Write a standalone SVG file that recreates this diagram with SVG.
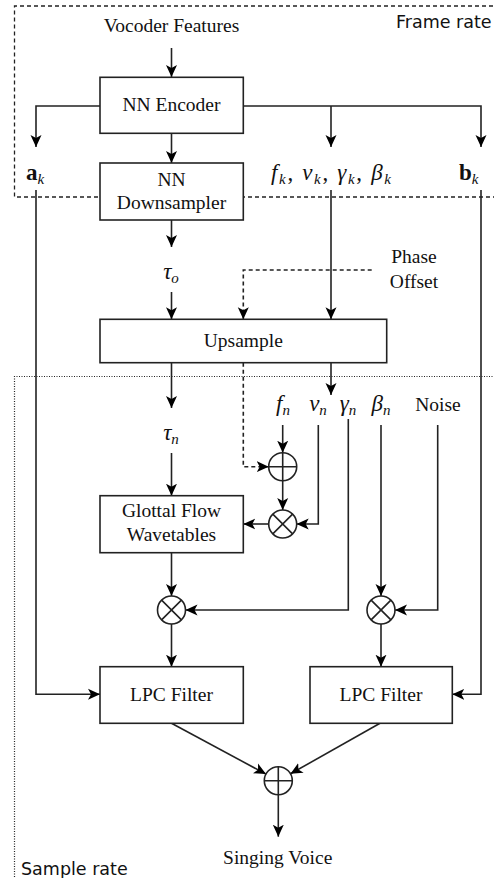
<svg xmlns="http://www.w3.org/2000/svg" width="494" height="878" viewBox="0 0 494 878">
<defs>
<marker id="arr" viewBox="0 0 12 12" refX="12" refY="6" markerWidth="12" markerHeight="12" orient="auto" markerUnits="userSpaceOnUse">
<path d="M0,0.5 L12,6 L0,11.5 L3,6 z" fill="#000"/>
</marker>
<style>
.box{fill:#fff;stroke:#222;stroke-width:1.6}
.op{fill:#fff;stroke:#222;stroke-width:1.6}
.ln{fill:none;stroke:#222;stroke-width:1.6}
.c{fill:none;stroke:#222;stroke-width:1.6}
.a{marker-end:url(#arr)}
.dash{stroke-dasharray:4 3}
.t{font-family:"Liberation Serif","Times New Roman",serif;font-size:19.5px;fill:#111;text-anchor:middle}
.m{font-family:"Liberation Serif","Times New Roman",serif;font-size:23px;font-style:italic;fill:#111;text-anchor:middle}
.s{font-size:15px}
.sans{font-family:"DejaVu Sans",Verdana,sans-serif;font-size:17.5px;fill:#111}
</style>
</defs>
<g id="regions">
<path d="M500,6 H14.5 V197 H500" fill="none" stroke="#222" stroke-width="1.3" stroke-dasharray="4 3"/>
<path d="M500,376.5 H14.5 V880" fill="none" stroke="#222" stroke-width="1.2" stroke-dasharray="1 1.5"/>
<text class="sans" x="396" y="28">Frame rate</text>
<text class="sans" x="21" y="875">Sample rate</text>
</g>
<g id="connectors">
<path class="c a" d="M171.5,48 V77"/>
<path class="c a" d="M100,106 H36 V147"/>
<path class="c a" d="M243,106 H481 V147"/>
<path class="c a" d="M331,106 V147"/>
<path class="c a" d="M171.5,133 V163"/>
<path class="c a" d="M36,190 V694.3 H100"/>
<path class="c a" d="M331,190 V319.3"/>
<path class="c a" d="M481,190 V694.3 H452.3"/>
<path class="c a" d="M171.5,220 V247"/>
<path class="c a" d="M171.5,292 V319.3"/>
<path class="c a dash" d="M371.7,270 H243.3 V319.3"/>
<path class="c a" d="M171.5,362.7 V408"/>
<path class="c a dash" d="M243.3,362.7 V466.7 H268.7"/>
<path class="c a" d="M331,362.7 V395"/>
<path class="c a" d="M282.7,425 V452.7"/>
<path class="c a" d="M282.7,480.7 V510"/>
<path class="c a" d="M318.3,425 V524 H296.7"/>
<path class="c a" d="M268.7,524 H243.3"/>
<path class="c a" d="M171.5,453 V495.7"/>
<path class="c a" d="M171.5,552.7 V596"/>
<path class="c a" d="M348.3,419 V610 H185.5"/>
<path class="c a" d="M381,425 V596"/>
<path class="c a" d="M437.7,425 V610 H395"/>
<path class="c a" d="M171.5,624 V666.7"/>
<path class="c a" d="M381,624 V666.7"/>
<path class="c a" d="M171.5,723.3 L266,774.1"/>
<path class="c a" d="M380,723.3 L290.5,773.8"/>
<path class="c a" d="M278.3,794.7 V836.7"/>
</g>
<g id="vocoder-features"><text class="t" x="171.5" y="32">Vocoder Features</text></g>
<g id="nn-encoder">
<rect class="box" x="100" y="77.3" width="143.3" height="56"/>
<text class="t" x="171.5" y="111">NN Encoder</text>
</g>
<g id="nn-downsampler">
<rect class="box" x="100" y="163" width="143.3" height="57"/>
<text class="t" x="171.5" y="186">NN</text>
<text class="t" x="171.5" y="209">Downsampler</text>
</g>
<g id="label-ak"><text x="26" y="180" font-family="Liberation Serif,serif" font-size="23" fill="#111"><tspan font-weight="bold">a</tspan><tspan font-style="italic" font-size="15" dy="4">k</tspan></text></g>
<g id="label-params-k"><text class="m" x="331" y="180" textLength="120" lengthAdjust="spacing">f<tspan class="s" dy="4">k</tspan><tspan dy="-4" font-style="normal">, </tspan>v<tspan class="s" dy="4">k</tspan><tspan dy="-4" font-style="normal">, </tspan>γ<tspan class="s" dy="4">k</tspan><tspan dy="-4" font-style="normal">, </tspan>β<tspan class="s" dy="4">k</tspan></text></g>
<g id="label-bk"><text x="459" y="180" font-family="Liberation Serif,serif" font-size="23" fill="#111"><tspan font-weight="bold">b</tspan><tspan font-style="italic" font-size="15" dy="4">k</tspan></text></g>
<g id="label-tau-o"><text class="m" x="171" y="279">τ<tspan class="s" dy="4">o</tspan></text></g>
<g id="phase-offset">
<text class="t" x="414" y="263">Phase</text>
<text class="t" x="414" y="288">Offset</text>
</g>
<g id="upsample">
<rect class="box" x="100" y="319.3" width="286.7" height="43.4"/>
<text class="t" x="243.3" y="347">Upsample</text>
</g>
<g id="label-tau-n"><text class="m" x="171" y="440">τ<tspan class="s" dy="4">n</tspan></text></g>
<g id="label-fn"><text class="m" x="283" y="411">f<tspan class="s" dy="4">n</tspan></text></g>
<g id="label-vn"><text class="m" x="318" y="411">v<tspan class="s" dy="4">n</tspan></text></g>
<g id="label-gn"><text class="m" x="348" y="411">γ<tspan class="s" dy="4">n</tspan></text></g>
<g id="label-bn"><text class="m" x="381" y="411">β<tspan class="s" dy="4">n</tspan></text></g>
<g id="noise"><text class="t" x="438" y="411">Noise</text></g>
<g id="adder-phase">
<circle class="op" cx="282.7" cy="466.7" r="14"/>
<path class="ln" d="M268.7,466.7 H296.7 M282.7,452.7 V480.7"/>
</g>
<g id="mult-voicing">
<circle class="op" cx="282.7" cy="524" r="14"/>
<path class="ln" d="M272.8,514.1 L292.6,533.9 M292.6,514.1 L272.8,533.9"/>
</g>
<g id="glottal-flow">
<rect class="box" x="100" y="495.7" width="143.3" height="57"/>
<text class="t" x="171.5" y="517">Glottal Flow</text>
<text class="t" x="171.5" y="541">Wavetables</text>
</g>
<g id="mult-gamma">
<circle class="op" cx="171.5" cy="610" r="14"/>
<path class="ln" d="M161.6,600.1 L181.4,619.9 M181.4,600.1 L161.6,619.9"/>
</g>
<g id="mult-beta">
<circle class="op" cx="381" cy="610" r="14"/>
<path class="ln" d="M371.1,600.1 L390.9,619.9 M390.9,600.1 L371.1,619.9"/>
</g>
<g id="lpc-filter-1">
<rect class="box" x="100" y="666.7" width="143.3" height="56.6"/>
<text class="t" x="171.5" y="701">LPC Filter</text>
</g>
<g id="lpc-filter-2">
<rect class="box" x="310" y="666.7" width="142.3" height="56.6"/>
<text class="t" x="381" y="701">LPC Filter</text>
</g>
<g id="adder-out">
<circle class="op" cx="278.3" cy="780.7" r="14"/>
<path class="ln" d="M264.3,780.7 H292.3 M278.3,766.7 V794.7"/>
</g>
<g id="singing-voice"><text class="t" x="277.7" y="864">Singing Voice</text></g>
</svg>
